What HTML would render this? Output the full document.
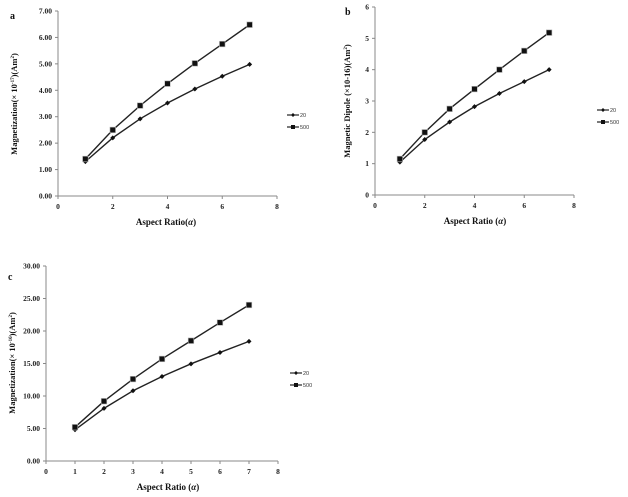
<!DOCTYPE html>
<html><head><meta charset="utf-8"><style>
body{margin:0;background:#fff;}
svg{display:block;font-family:"Liberation Serif",serif;}
</style></head><body>
<svg id="s" width="628" height="497" viewBox="0 0 628 497" xmlns="http://www.w3.org/2000/svg"></svg>
<script>
const s=document.getElementById('s');let h='';
function chart(o){
 const X=v=>o.x0+(o.x1-o.x0)*v/8, Y=v=>o.y0-(o.y0-o.y1)*v/o.ymax;
 h+=`<line x1="${o.x0}" y1="${o.y0}" x2="${o.x0}" y2="${o.y1}" stroke="#888" stroke-width="1"/>`;
 h+=`<line x1="${o.x0}" y1="${o.y0}" x2="${o.x1}" y2="${o.y0}" stroke="#888" stroke-width="1"/>`;
 for(let i=0;i<o.yt.length;i++){const v=o.ymax*i/(o.yt.length-1),y=Y(v);
  h+=`<line x1="${o.x0-3}" y1="${y}" x2="${o.x0}" y2="${y}" stroke="#888"/>`;
  h+=`<text x="${o.x0-6}" y="${y+2.5}" font-size="7.5" font-weight="bold" text-anchor="end" fill="#222">${o.yt[i]}</text>`;}
 for(let v=0;v<=8;v+=o.xs){const x=X(v);
  h+=`<line x1="${x}" y1="${o.y0}" x2="${x}" y2="${o.y0+3}" stroke="#888"/>`;
  h+=`<text x="${x}" y="${o.y0+13}" font-size="7.5" font-weight="bold" text-anchor="middle" fill="#222">${v}</text>`;}
 const pts=d=>d.map((v,i)=>X(i+1)+','+Y(v)).join(' ');
 h+=`<polyline points="${pts(o.a)}" fill="none" stroke="#222" stroke-width="1.4"/>`;
 h+=`<polyline points="${pts(o.b)}" fill="none" stroke="#222" stroke-width="1.4"/>`;
 o.a.forEach((v,i)=>{const x=X(i+1),y=Y(v);h+=`<polygon points="${x},${y-2.5} ${x+2.5},${y} ${x},${y+2.5} ${x-2.5},${y}" fill="#111"/>`;});
 o.b.forEach((v,i)=>{const x=X(i+1),y=Y(v);h+=`<rect x="${x-2.8}" y="${y-2.8}" width="5.6" height="5.6" fill="#111" stroke="#bbb" stroke-width="0.6"/>`;});
 const lx=o.lx,ly=o.ly;
 h+=`<line x1="${lx}" y1="${ly}" x2="${lx+12}" y2="${ly}" stroke="#222" stroke-width="1.2"/><polygon points="${lx+6},${ly-2} ${lx+8},${ly} ${lx+6},${ly+2} ${lx+4},${ly}" fill="#111"/>`;
 h+=`<text x="${lx+13}" y="${ly+2}" font-size="5.5" font-family="Liberation Sans" fill="#333">20</text>`;
 h+=`<line x1="${lx}" y1="${ly+12}" x2="${lx+12}" y2="${ly+12}" stroke="#222" stroke-width="1.2"/><rect x="${lx+4}" y="${ly+10}" width="4" height="4" fill="#111"/>`;
 h+=`<text x="${lx+13}" y="${ly+14}" font-size="5.5" font-family="Liberation Sans" fill="#333">500</text>`;
 h+=`<text x="${o.tx}" y="${o.ty}" font-size="9" font-weight="bold" text-anchor="middle" fill="#111">${o.xt}</text>`;
 h+=`<text transform="translate(${o.yx},${o.yy}) rotate(-90)" font-size="8.5" font-weight="bold" text-anchor="middle" fill="#111">${o.ytt}</text>`;
 h+=`<text x="${o.lbx}" y="${o.lby}" font-size="10" font-weight="bold" fill="#111">${o.lb}</text>`;
}
chart({x0:58,x1:277,y0:196,y1:11,ymax:7,yt:['0.00','1.00','2.00','3.00','4.00','5.00','6.00','7.00'],xs:2,
 a:[1.3,2.2,2.92,3.52,4.05,4.53,4.98],b:[1.4,2.5,3.42,4.25,5.02,5.75,6.48],lx:287,ly:115,
 tx:166,ty:225,xt:'Aspect Ratio(<tspan font-style="italic">α</tspan>)',yx:17,yy:104,
 ytt:'Magnetization(× 10<tspan dy="-3" font-size="5">-17</tspan><tspan dy="3">)(Am</tspan><tspan dy="-3" font-size="5">2</tspan><tspan dy="3">)</tspan>',lbx:10,lby:19,lb:'a'});
chart({x0:375,x1:574,y0:195,y1:7,ymax:6,yt:['0','1','2','3','4','5','6'],xs:2,
 a:[1.05,1.77,2.33,2.82,3.24,3.62,4.0],b:[1.15,2.0,2.75,3.38,4.0,4.6,5.18],lx:597,ly:110,
 tx:475,ty:224,xt:'Aspect Ratio (<tspan font-style="italic">α</tspan>)',yx:350,yy:101,
 ytt:'Magnetic Dipole (×10-16)(Am<tspan dy="-3" font-size="5">2</tspan><tspan dy="3">)</tspan>',lbx:345,lby:15,lb:'b'});
chart({x0:46,x1:278,y0:461,y1:266,ymax:30,yt:['0.00','5.00','10.00','15.00','20.00','25.00','30.00'],xs:1,
 a:[4.8,8.1,10.8,13.0,14.95,16.7,18.4],b:[5.2,9.2,12.6,15.7,18.5,21.3,24.0],lx:290,ly:373,
 tx:168,ty:490,xt:'Aspect Ratio (<tspan font-style="italic">α</tspan>)',yx:15,yy:363,
 ytt:'Magnetization(× 10<tspan dy="-3" font-size="5">-16</tspan><tspan dy="3">)(Am</tspan><tspan dy="-3" font-size="5">2</tspan><tspan dy="3">)</tspan>',lbx:8,lby:280,lb:'c'});
s.innerHTML=h;
</script>
</body></html>
